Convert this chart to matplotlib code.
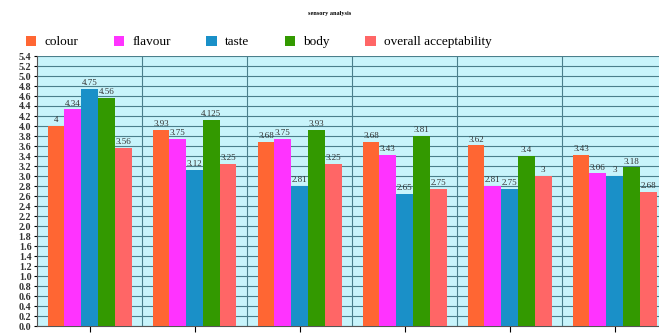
import matplotlib
matplotlib.use("Agg")
import matplotlib.pyplot as plt
import numpy as np

categories = ["1", "2", "3", "4", "5", "6"]
series_names = ["colour", "flavour", "taste", "body", "overall acceptability"]
colour = [4, 3.93, 3.68, 3.68, 3.62, 3.43]
flavour = [4.34, 3.75, 3.75, 3.43, 2.81, 3.06]
taste = [4.75, 3.12, 2.81, 2.65, 2.75, 3]
body = [4.56, 4.125, 3.93, 3.81, 3.4, 3.18]
overall = [3.56, 3.25, 3.25, 2.75, 3, 2.68]
yticks = [round(0.2 * i, 1) for i in range(28)]

series = [colour, flavour, taste, body, overall]
colors = ["#ff6633", "#ff33ff", "#1a90c8", "#339900", "#ff6666"]

W, H = 659, 333
fig = plt.figure(figsize=(W / 100, H / 100), dpi=100)
serif = "Liberation Serif"

ax = fig.add_axes([37 / W, 7 / H, 630 / W, 270 / H])
ax.set_facecolor("#c8f4fb")
x = np.arange(len(categories))
bw = 0.16
for i, (name, vals, c) in enumerate(zip(series_names, series, colors)):
    pos = x + (i - 2) * bw
    bars = ax.bar(pos, vals, width=bw, color=c, label=name, zorder=3)
    for b, v in zip(bars, vals):
        ax.text(b.get_x() + b.get_width() / 2, v + 0.03, f"{v:g}",
                ha="center", va="bottom", fontsize=6.5, family=serif,
                color="#333333", zorder=4)

ax.set_xlim(-0.5, len(categories) - 0.5)
ax.set_ylim(0, 5.4)
ax.set_yticks(yticks)
ax.set_yticklabels([f"{t:.1f}" for t in yticks], family=serif, fontsize=7.2,
                   fontweight="bold", color="#333333")
ax.set_xticks(x)
ax.set_xticklabels(categories, family=serif, fontsize=8)
ax.tick_params(axis="y", length=2, pad=2)
ax.tick_params(axis="x", length=4, pad=1)
ax.yaxis.grid(True, color="#4a7f8c", linewidth=0.8, zorder=0)
for b in np.arange(0.5, len(categories) - 0.5, 1):
    ax.axvline(b, color="#4a7f8c", linewidth=0.8, zorder=0)
for s in ["top", "right"]:
    ax.spines[s].set_visible(False)
ax.spines["left"].set_color("#555555")
ax.spines["bottom"].set_color("#555555")

fig.text(0.5, 1 - 13 / H, "sensory analysis", ha="center", va="center",
         fontsize=4.5, fontweight="bold", family=serif)
fig.legend(loc="center left", bbox_to_anchor=(14 / W, 1 - 42 / H), ncol=5,
           frameon=False, prop={"family": serif, "size": 9.5},
           handlelength=0.8, handleheight=0.8, handletextpad=0.6,
           columnspacing=2.7)

fig.savefig("out.png", dpi=100)
